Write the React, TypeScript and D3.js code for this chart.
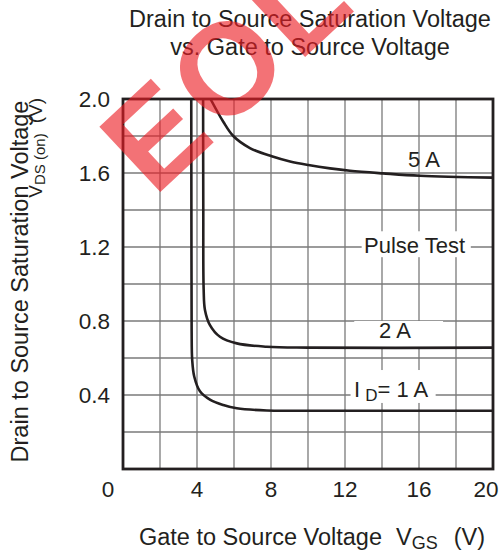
import React, { useEffect, useRef } from 'react';
import * as d3 from 'd3';

// Gate to source voltage ticks (V)
const xTicks = [0, 4, 8, 12, 16, 20];
const yTicks = [0.4, 0.8, 1.2, 1.6, 2.0];

// VDS(on) vs VGS
const curve1A: [number, number][] = [
  [3.69, 2.0], [3.7, 1.2], [3.71, 0.75], [3.74, 0.59], [3.85, 0.5], [4.16, 0.42],
  [4.7, 0.375], [5.42, 0.346], [6.15, 0.328], [7.77, 0.316], [10, 0.315], [20, 0.315],
];
const curve2A: [number, number][] = [
  [4.33, 2.0], [4.34, 1.4], [4.36, 0.97], [4.43, 0.86], [4.7, 0.778], [5.24, 0.715],
  [6.15, 0.679], [7.77, 0.661], [10, 0.656], [20, 0.656],
];
const curve5A: [number, number][] = [
  [4.73, 2.0], [5.42, 1.877], [5.96, 1.8], [6.86, 1.735], [8.04, 1.69], [9.03, 1.662],
  [10.02, 1.643], [11.19, 1.625], [12.27, 1.612], [14.05, 1.598], [16.05, 1.585], [20, 1.575],
];

const FONT = 'Arial, "Liberation Sans", Helvetica, sans-serif';
const INK = '#231f20';

const App = () => {
  const svgRef = useRef<SVGSVGElement>(null);

  useEffect(() => {
    const margin = { top: 99, right: 7, bottom: 85, left: 123 };
    const W = 500, H = 554;
    const width = W - margin.left - margin.right;
    const height = H - margin.top - margin.bottom;

    d3.select(svgRef.current).selectAll('*').remove();
    const root = d3.select(svgRef.current).attr('width', W).attr('height', H);
    const svg = root.append('g').attr('transform', `translate(${margin.left},${margin.top})`);

    const x = d3.scaleLinear().domain([0, 20]).range([0, width]);
    const y = d3.scaleLinear().domain([0, 2]).range([height, 0]);

    // grid
    const grid = svg.append('g').attr('stroke', '#7a7a7a').attr('stroke-width', 1.3);
    grid.selectAll('line.v').data(d3.range(2, 20, 2)).enter().append('line')
      .attr('x1', d => x(d)).attr('x2', d => x(d)).attr('y1', 0).attr('y2', height);
    grid.selectAll('line.h').data(d3.range(0.2, 2, 0.2)).enter().append('line')
      .attr('y1', d => y(d)).attr('y2', d => y(d)).attr('x1', 0).attr('x2', width);

    // white boxes behind curve labels
    const boxes = [
      { x0: 12.5, x1: 17.3, y0: 0.8, y1: 0.653 },   // 2 A
      { x0: 12.3, x1: 16.9, y0: 0.535, y1: 0.357 }, // I_D = 1 A
      { x0: 12.9, x1: 18.8, y0: 1.285, y1: 1.145 }, // Pulse Test
    ];
    svg.selectAll('rect.bg').data(boxes).enter().append('rect')
      .attr('x', d => x(d.x0)).attr('width', d => x(d.x1) - x(d.x0))
      .attr('y', d => y(d.y0)).attr('height', d => y(d.y1) - y(d.y0))
      .attr('fill', '#fff');

    // curves
    const line = d3.line<[number, number]>()
      .x(d => x(d[0])).y(d => y(d[1]))
      .curve(d3.curveCatmullRom.alpha(0.5));
    [curve1A, curve2A, curve5A].forEach(c => {
      svg.append('path').attr('d', line(c))
        .attr('fill', 'none').attr('stroke', INK).attr('stroke-width', 2.6);
    });

    // frame
    svg.append('rect').attr('width', width).attr('height', height)
      .attr('fill', 'none').attr('stroke', INK).attr('stroke-width', 2.8);

    const txt = (g: any) => g.attr('font-family', FONT).attr('fill', INK);

    // tick labels
    svg.selectAll('text.xt').data(xTicks).enter().append('text')
      .call(txt).attr('font-size', 22.5)
      .attr('x', d => x(d) + (d === 0 ? -15 : d === 20 ? -7 : 0))
      .attr('y', height + 28).attr('text-anchor', 'middle')
      .text(d => d);
    svg.selectAll('text.yt').data(yTicks).enter().append('text')
      .call(txt).attr('font-size', 22.5)
      .attr('x', -13).attr('y', d => y(d) + 8).attr('text-anchor', 'end')
      .text(d => d.toFixed(1));

    // curve labels
    const lab = (xv: number, yv: number, s: string) =>
      svg.append('text').call(txt).attr('font-size', 22)
        .attr('x', x(xv)).attr('y', y(yv)).attr('text-anchor', 'middle').text(s);
    lab(16.27, 1.632, '5 A');
    lab(14.7, 0.708, '2 A');
    lab(15.76, 1.168, 'Pulse Test');
    const id = svg.append('text').call(txt).attr('font-size', 22)
      .attr('x', x(12.49)).attr('y', y(0.389));
    id.append('tspan').text('I');
    id.append('tspan').attr('font-size', 17).attr('dx', 5).attr('dy', 4).text('D');
    id.append('tspan').attr('dy', -4).text('= 1 A');

    // title
    const title = root.append('text').call(txt).attr('font-size', 23.5).attr('text-anchor', 'middle');
    title.append('tspan').attr('x', 310).attr('y', 27).text('Drain to Source Saturation Voltage');
    title.append('tspan').attr('x', 310).attr('y', 55).text('vs. Gate to Source Voltage');

    // x axis label
    const xl = root.append('text').call(txt).attr('font-size', 23.5)
      .attr('x', 312).attr('y', 545).attr('text-anchor', 'middle');
    xl.append('tspan').text('Gate to Source Voltage');
    xl.append('tspan').attr('dx', 14).text('V');
    xl.append('tspan').attr('font-size', 18).attr('dy', 4).text('GS');
    xl.append('tspan').attr('dx', 16).attr('dy', -4).text('(V)');

    // y axis label
    root.append('text').call(txt).attr('font-size', 23.5)
      .attr('transform', 'translate(28,281.5) rotate(-90)').attr('text-anchor', 'middle')
      .text('Drain to Source Saturation Voltage');
    const yl = root.append('text').call(txt).attr('font-size', 19)
      .attr('transform', 'translate(42,98) rotate(-90)').attr('text-anchor', 'end');
    yl.append('tspan').text('V');
    yl.append('tspan').attr('font-size', 15).attr('dy', 3).text('DS (on)');
    yl.append('tspan').attr('dx', 10).attr('dy', -3).text('(V)');

    // EOL watermark
    root.append('text').attr('font-family', FONT).attr('font-weight', 'bold')
      .attr('font-size', 130).attr('letter-spacing', 5)
      .attr('fill', '#ed1c24').attr('opacity', 0.62)
      .attr('transform', 'translate(154,198) rotate(-43)')
      .text('EOL');
  }, []);

  return (
    <svg ref={svgRef} style={{ position: 'absolute', left: 0, top: 0 }}></svg>
  );
};

export default App;
